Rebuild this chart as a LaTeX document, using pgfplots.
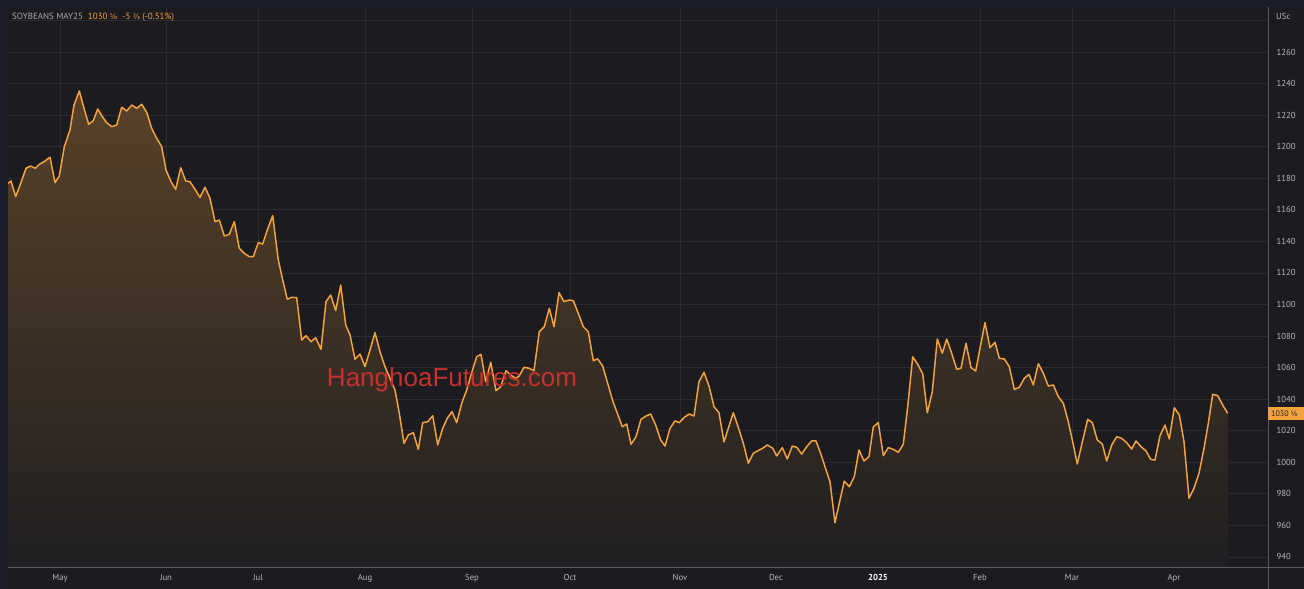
\documentclass[border=0pt]{standalone}
\usepackage{pgfplots}
\pgfplotsset{compat=1.18}
\usepackage{pgfplotstable}
\usepackage{fontspec}
\setmainfont{PT Sans}
\newfontfamily\dv{DejaVu Sans}
\newfontfamily\wm{Liberation Sans}
\definecolor{bg}{HTML}{1C1C20}
\definecolor{frame}{HTML}{1A1E2B}
\definecolor{gridc}{HTML}{2B2B30}
\definecolor{sep}{HTML}{5A5A5E}
\definecolor{lineo}{HTML}{F4A23E}
\definecolor{txt}{HTML}{B8B8B8}
\definecolor{wmred}{HTML}{C8302E}

% soybeans May25, price in US cents; x = pixel column of the trading day
\pgfplotstableread{
x y
8 1176.8
11 1178.3
15.7 1168.3
20.7 1176.8
26 1186.3
30.7 1187.8
35.3 1186.3
39.3 1188.8
45 1190.9
50 1193.3
55 1177.2
59.3 1181.4
64.3 1200
70 1210.6
74 1226.4
79.3 1235.3
84 1224.3
88.7 1214.2
93.3 1216.5
97.7 1223.9
102 1219.4
106.7 1215.2
111.7 1212.7
116.7 1213.7
121.7 1225
126.7 1222.6
131.7 1226.4
136.7 1224.3
141.7 1226.9
146.7 1221.8
151.7 1211.6
156.7 1205.3
161.7 1200
166 1185.2
171 1177.8
175.7 1173
180.7 1186.7
185.7 1178.3
190 1177.8
195 1173
200 1167.9
205 1174.3
210 1167.3
215 1152.5
219.3 1153.5
224.3 1143.4
229.3 1144.5
234.3 1152.5
239.3 1135.6
244.3 1132.4
249.3 1130.3
253.3 1130.3
258.3 1139.2
262.7 1138.3
267.3 1147.2
272.7 1156.3
278.3 1128.2
282.7 1115.5
287.3 1103.3
291.7 1104.6
296.7 1104.3
301.7 1077.5
306 1080.2
311 1076.4
315.7 1078.9
321 1071.6
326 1101.8
330.7 1106
335.7 1096.1
340.7 1112.3
345.7 1087
350 1080.7
355 1065.3
360 1068.6
365 1060.6
370 1071.2
375 1082.1
380 1070.1
385 1060.6
390 1053.2
395 1045.8
399.3 1031
404 1012
408.3 1017.3
413.3 1018.8
418.3 1008.2
422.7 1025.1
427.7 1025.7
432.7 1029.5
437.7 1011
442.7 1021.5
447.3 1027.9
452 1032.1
456.7 1025.1
461.7 1037.4
466.7 1045.8
471.7 1056.8
476.7 1066.9
481 1068.4
485.7 1051.1
490.7 1063.4
496 1045.4
500.7 1047.9
506 1058
510.7 1055.3
515.7 1053.2
519 1054.5
524 1060.2
529 1059.6
534 1058
539.3 1082.8
544.3 1085.9
549.3 1097.6
554 1085.9
559 1107.5
564 1101.8
569 1102.8
573.3 1102.4
578.3 1094.4
583.3 1085.9
588.3 1082.8
593.3 1064.4
597.7 1065.5
602.7 1061
607.7 1050
612.7 1039
617.3 1031
622.3 1022.5
626.7 1024.3
631 1011.4
636 1016.2
641 1027.2
646 1029.3
650.7 1030.6
655.7 1023.6
660.7 1014.1
665 1010.3
670 1021.5
675 1026.2
679.3 1025.1
684.3 1028.5
689.3 1030.6
694 1029.3
699 1051.1
704 1057
709 1048.3
714 1035.2
719 1031.4
724 1012.9
728.3 1021.5
733.3 1031.4
738.3 1022.2
743.3 1012
748.3 999.4
753.3 1005.7
758.3 1007.4
762.7 1008.9
767.3 1011
772.7 1008.9
776.7 1004
782.3 1009.3
787.3 1002.1
792.3 1010.3
796.7 1009.5
801.7 1005.2
806.7 1009.9
811.7 1013.5
816 1013.5
821 1005
825 997.2
830 987.7
835 961.7
840 976.1
844.3 988.1
849.3 984.5
854.3 990.9
859 1007.8
864 1000.8
869 1003.6
873.3 1022.4
878.3 1025.1
883.3 1004.2
888.3 1009.3
893.3 1008.2
898.3 1006.3
903.3 1011.4
907.7 1035.2
912.7 1066.9
917.7 1062.1
922.7 1056
927.3 1031.4
932.3 1044.7
937.3 1078.1
942.3 1069.1
946.7 1078.1
951.7 1069.1
956.7 1058.9
961 1059.6
966 1075.4
971 1060
975.7 1057.9
980 1072.2
985 1088.5
990 1072.6
995 1076
999.3 1065.9
1004.3 1065.5
1009.3 1060.6
1014.3 1046.2
1019.3 1047.5
1024.3 1053.2
1029 1055.7
1033.3 1049
1038.3 1062.5
1043.3 1056.4
1048.3 1048.3
1053.3 1049
1058.3 1041.6
1063.3 1037.4
1068.3 1025.7
1072.7 1012.9
1077.3 998.9
1082.3 1012.9
1087.7 1027.2
1092.3 1025.1
1097.3 1014.1
1102.3 1011.6
1106.7 1000.8
1111.7 1010.9
1116.7 1016.2
1121.7 1015.2
1126.7 1012.4
1131.7 1008.4
1136 1013.5
1141 1009.9
1146 1007.2
1150.7 1001.9
1155 1001.4
1160 1016.8
1165 1023.6
1169.3 1014.8
1174.3 1034.6
1179.3 1030
1184 1013
1189 977.2
1194 983.5
1199 993
1204 1008.9
1208.3 1024.7
1212.7 1043.1
1217.7 1042.2
1222.7 1036.3
1227.7 1031
}\soy

\begin{document}
\begin{tikzpicture}[x=1pt,y=1pt]
\fill[frame] (0,0) rectangle (1304,589);
\fill[bg] (7,0) rectangle (1304,582);
\useasboundingbox (0,0) rectangle (1304,589);

\begin{axis}[
    at={(8pt,21pt)}, anchor=south west,
    width=1260pt, height=560pt, scale only axis,
    xmin=8, xmax=1268, ymin=933, ymax=1287.9,
    axis line style={draw=none},
    major tick length=0pt,
    grid=major,
    grid style={gridc, line width=0.8pt},
    xtick={60,166,258,365,472,570,680,776,878,980,1072,1174},
    xticklabels={May,Jun,Jul,Aug,Sep,Oct,Nov,Dec,{\textcolor{white}{\bfseries 2025}},Feb,Mar,Apr},
    ytick={940,960,...,1260},
    extra y ticks={1280}, extra y tick labels={},
    extra y tick style={grid=major},
    yticklabel pos=right,
    /pgf/number format/.cd, 1000 sep={}, assume math mode=true,
    /pgfplots/.cd,
    ticklabel style={font=\fontsize{8.7}{10}\selectfont, txt},
    yticklabel style={anchor=west, xshift=5pt},
    xticklabel style={yshift=-3pt},
    clip=true,
  ]
\addplot[draw=none, top color=lineo!28!bg, bottom color=lineo!2!bg]
  table {\soy} |- (axis cs:8,933) -- cycle;
\addplot[lineo, line width=1.5pt, line join=round] table {\soy};
\node[anchor=center, text=wmred, font=\wm\fontsize{26}{30}\selectfont]
  at (axis cs:452,1052) {HanghoaFutures.com};
\end{axis}

\draw[sep, line width=1pt] (8,21) -- (1304,21);
\draw[sep, line width=1pt] (1268,0) -- (1268,582);
\fill[lineo] (1268,169) rectangle (1304,182);
\node[anchor=west, inner sep=0pt, text=bg, font=\fontsize{8}{9}\selectfont]
  at (1271,175.5) {1030 {\dv\fontsize{7}{9}\selectfont ⅝}};
\node[anchor=west, inner sep=0pt, text=txt, font=\fontsize{8.7}{10}\selectfont]
  at (1276,573) {USc};
\node[anchor=west, inner sep=0pt, font=\fontsize{9}{10}\selectfont]
  at (12,572) {\textcolor{txt!120}{SOYBEANS MAY25}\hspace{5pt}\textcolor{lineo}{1030 {\dv\fontsize{7.5}{9}\selectfont ⅝}\hspace{5pt}-5 {\dv\fontsize{7.5}{9}\selectfont ¾} (-0.51\%)}};
\end{tikzpicture}
\end{document}
